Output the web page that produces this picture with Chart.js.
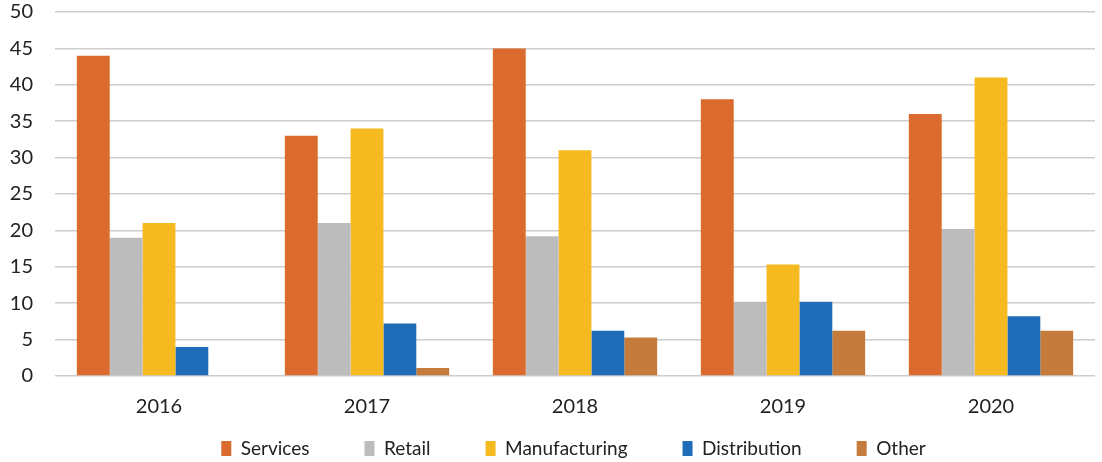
<!DOCTYPE html>
<html>
<head>
<meta charset="utf-8">
<script src="https://cdn.jsdelivr.net/npm/chart.js@4/dist/chart.umd.min.js"></script>
<style>
  html, body { margin: 0; padding: 0; background: #ffffff; }
  #wrap { width: 1102px; height: 462px; position: relative; }
</style>
</head>
<body>
<div id="wrap"><canvas id="c"></canvas></div>
<script>
const categories = ['2016', '2017', '2018', '2019', '2020'];
const services = [44, 33, 45, 38, 36];
const retail = [19, 21, 19.2, 10.2, 20.2];
const manufacturing = [21, 34, 31, 15.3, 41];
const distribution = [4, 7.2, 6.2, 10.2, 8.2];
const other = [0, 1.1, 5.3, 6.2, 6.2];
const yTicks = [0, 5, 10, 15, 20, 25, 30, 35, 40, 45, 50];

const FONT = "Lato, 'Open Sans', sans-serif";
const LEGEND_GAP = 55;

// keep the legend row compact vertically while leaving wide horizontal gaps
const legendTighten = {
  id: 'legendTighten',
  beforeLayout(chart) {
    const lg = chart.legend;
    if (!lg || lg._tight) return;
    lg._tight = true;
    const origFit = lg.fit.bind(lg);
    lg.fit = function () {
      origFit();
      this.height = 38;
    };
    const origDraw = lg.draw.bind(lg);
    lg.draw = function () {
      const t = this.top, l = this.left, r = this.right;
      this.top = t - LEGEND_GAP + 15;
      this.left = l + 22; this.right = r + 22;
      origDraw();
      this.top = t; this.left = l; this.right = r;
    };
  }
};

new Chart(document.getElementById('c'), {
  type: 'bar',
  data: {
    labels: categories,
    datasets: [
      { label: 'Services', data: services, backgroundColor: '#DA6A2D' },
      { label: 'Retail', data: retail, backgroundColor: '#BCBCBC' },
      { label: 'Manufacturing', data: manufacturing, backgroundColor: '#F5BA20' },
      { label: 'Distribution', data: distribution, backgroundColor: '#1F6DB9' },
      { label: 'Other', data: other, backgroundColor: '#C47B3C' }
    ]
  },
  plugins: [legendTighten],
  options: {
    responsive: true,
    maintainAspectRatio: false,
    animation: false,
    layout: { padding: { left: 8, right: 7, top: 1, bottom: 0 } },
    datasets: { bar: { categoryPercentage: 0.79, barPercentage: 1.0, borderWidth: 0 } },
    plugins: {
      legend: {
        position: 'bottom',
        labels: {
          font: { family: FONT, size: 19 },
          color: '#222',
          boxWidth: 10,
          boxHeight: 15,
          padding: LEGEND_GAP
        }
      },
      tooltip: { enabled: false }
    },
    scales: {
      x: {
        grid: { display: false, drawTicks: false },
        border: { display: false },
        ticks: { font: { family: FONT, size: 20 }, color: '#222', padding: 19 },
        afterFit: (axis) => { axis.height = 48; axis.paddingLeft = 0; axis.paddingRight = 0; }
      },
      y: {
        min: 0, max: 50,
        afterBuildTicks: (axis) => { axis.ticks = yTicks.map(v => ({ value: v })); },
        grid: { color: '#CDCDCD', lineWidth: 1.5, drawTicks: false },
        border: { display: false },
        ticks: { font: { family: FONT, size: 20 }, color: '#222', padding: 22 },
        afterFit: (axis) => { axis.width = 47; axis.paddingTop = 12; axis.paddingBottom = 0; }
      }
    }
  }
});
</script>
</body>
</html>
